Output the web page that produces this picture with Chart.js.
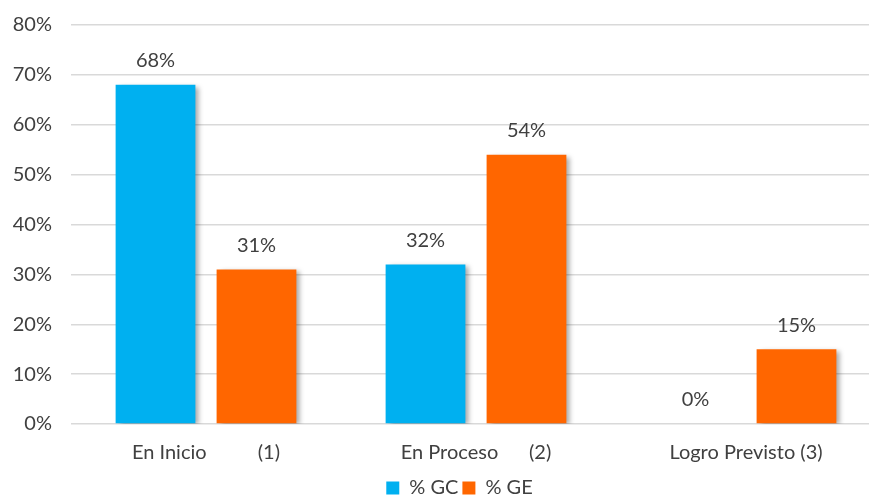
<!DOCTYPE html>
<html><head><meta charset="utf-8">
<script src="https://cdn.jsdelivr.net/npm/chart.js@4"></script>
<style>html,body{margin:0;padding:0;overflow:hidden;background:#fff}#wrap{width:890px;height:505px;position:relative;top:-6px}</style>
</head><body><div id="wrap"><canvas id="c"></canvas></div>
<script>
const categories = ['En Inicio          (1)', 'En Proceso      (2)', 'Logro Previsto (3)'];
const seriesNames = ['% GC', '% GE'];
const gcValues = [68, 32, 0];
const geValues = [31, 54, 15];
const yTicks = [0, 10, 20, 30, 40, 50, 60, 70, 80];

const FONT = 'Lato, "Open Sans", sans-serif';
const TXT = '#404040';

const shadowPlugin = {
  id: 'shadow',
  beforeDatasetsDraw(chart) {
    const ctx = chart.ctx; ctx.save();
    ctx.shadowColor = 'rgba(0,0,0,0.35)'; ctx.shadowBlur = 5; ctx.shadowOffsetX = 4; ctx.shadowOffsetY = 2;
  },
  afterDatasetsDraw(chart) { chart.ctx.restore(); }
};
const labelPlugin = {
  id: 'vals',
  afterDatasetsDraw(chart) {
    const ctx = chart.ctx; ctx.save();
    ctx.font = '20px ' + FONT; ctx.fillStyle = TXT; ctx.textAlign = 'center'; ctx.textBaseline = 'bottom';
    chart.data.datasets.forEach((ds, i) => {
      chart.getDatasetMeta(i).data.forEach((bar, j) => {
        ctx.fillText(ds.data[j] + '%', bar.x, bar.y - 14);
      });
    });
    ctx.restore();
  }
};
const legendShift = {
  id: 'legendShift',
  afterLayout(chart) {
    const lg = chart.legend; if (lg) { lg.left += 38; lg.top += 2; lg.bottom += 2; }
  }
};

new Chart(document.getElementById('c'), {
  type: 'bar',
  data: {
    labels: categories,
    datasets: [
      { label: seriesNames[0], data: gcValues, backgroundColor: '#00B0F0' },
      { label: seriesNames[1], data: geValues, backgroundColor: '#FF6600' }
    ]
  },
  options: {
    responsive: true, maintainAspectRatio: false, animation: false,
    layout: { padding: { left: 0, right: 9, top: 6, bottom: -7 } },
    datasets: { bar: { categoryPercentage: 0.748, barPercentage: 0.79 } },
    scales: {
      x: {
        grid: { display: false }, border: { display: false },
        ticks: { color: TXT, font: { family: FONT, size: 20 }, padding: 9, maxRotation: 0 },
        afterFit(s) { s.height = 48; }
      },
      y: {
        min: 0, max: 80,
        afterBuildTicks(s) { s.ticks = yTicks.map(v => ({ value: v })); },
        grid: { color: '#d9d9d9', drawTicks: false, lineWidth: 1.5 }, border: { display: false },
        ticks: { color: TXT, font: { family: FONT, size: 20 }, padding: 19, callback: v => v + '%' },
        afterFit(s) { s.width = 71; }
      }
    },
    plugins: {
      legend: {
        position: 'bottom',
        labels: { color: TXT, font: { family: FONT, size: 20 }, boxWidth: 13, boxHeight: 13, padding: 4 }
      },
      tooltip: { enabled: false }
    }
  },
  plugins: [shadowPlugin, labelPlugin, legendShift]
});
</script></body></html>
